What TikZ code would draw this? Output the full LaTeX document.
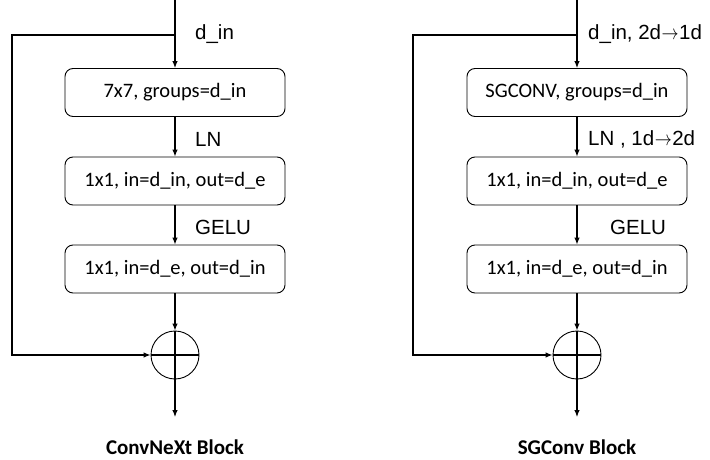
\documentclass[tikz,border=0pt]{standalone}
\usepackage{fontspec}
\usepackage{graphicx}
\setmainfont{Carlito}
\newfontfamily\arialf{Liberation Sans}
\newcommand{\myarr}{\kern0.5pt\scalebox{0.82}[1]{$\rightarrow$}\kern0.5pt}
\usetikzlibrary{arrows.meta}
\begin{document}
\begin{tikzpicture}[x=1pt,y=-1pt,
  blk/.style={draw, rounded corners=8pt, minimum width=220pt, minimum height=48pt, inner sep=0pt, line width=0.9pt, font=\fontsize{20.5}{24}\selectfont},
  lbl/.style={anchor=west, inner sep=0pt, font=\arialf\fontsize{20.5}{24}\selectfont},
  ttl/.style={inner sep=0pt, font=\bfseries\fontsize{21}{25}\selectfont},
  conn/.style={line width=1.1pt, -{Latex[length=7pt,width=5.5pt]}},
  plain/.style={line width=1.1pt},
  sumc/.style={draw, circle, minimum size=48pt, inner sep=0pt, line width=0.9pt}]
\useasboundingbox (0,0) rectangle (710,460);

% ---------- Left: ConvNeXt ----------
\coordinate (Ltop) at (175,0);
\coordinate (Lbr) at (175,35);
\coordinate (Lcorner1) at (12,35);
\coordinate (Lcorner2) at (12,355);
\coordinate (Lend) at (175,417);
\node[blk] (L1) at (175,92.5) {7x7, groups=d\_in};
\node[blk] (L2) at (175,181) {1x1, in=d\_in, out=d\_e};
\node[blk] (L3) at (175,269) {1x1, in=d\_e, out=d\_in};
\node[sumc] (Ls) at (175,355) {};
\draw[plain] (Ls.west) -- (Ls.east) (Ls.north) -- (Ls.south);
\draw[conn] (Ltop) -- (L1.north);
\draw[conn] (L1.south) -- (L2.north);
\draw[conn] (L2.south) -- (L3.north);
\draw[conn] (L3.south) -- (Ls.north);
\draw[conn] (Lbr) -- (Lcorner1) -- (Lcorner2) -- (Ls.west);
\draw[conn] (Ls.south) -- (Lend);
\node[lbl] (La) at (195,34) {d\_in};
\node[lbl] (Lb) at (195,139) {LN};
\node[lbl] (Lc) at (195,227) {GELU};
\node[ttl] (Lt) at (175,447) {ConvNeXt Block};

% ---------- Right: SGConv ----------
\coordinate (Rtop) at (577,0);
\coordinate (Rbr) at (577,35);
\coordinate (Rcorner1) at (413,35);
\coordinate (Rcorner2) at (413,355);
\coordinate (Rend) at (577,417);
\node[blk] (R1) at (577,92.5) {SGCONV, groups=d\_in};
\node[blk] (R2) at (577,181) {1x1, in=d\_in, out=d\_e};
\node[blk] (R3) at (577,269) {1x1, in=d\_e, out=d\_in};
\node[sumc] (Rs) at (577,355) {};
\draw[plain] (Rs.west) -- (Rs.east) (Rs.north) -- (Rs.south);
\draw[conn] (Rtop) -- (R1.north);
\draw[conn] (R1.south) -- (R2.north);
\draw[conn] (R2.south) -- (R3.north);
\draw[conn] (R3.south) -- (Rs.north);
\draw[conn] (Rbr) -- (Rcorner1) -- (Rcorner2) -- (Rs.west);
\draw[conn] (Rs.south) -- (Rend);
\node[lbl] (Ra) at (588,34) {d\_in, 2d\myarr1d};
\node[lbl] (Rb) at (588,139) {LN , 1d\myarr2d};
\node[lbl] (Rc) at (610,227) {GELU};
\node[ttl] (Rt) at (577,447) {SGConv Block};
\end{tikzpicture}
\end{document}
